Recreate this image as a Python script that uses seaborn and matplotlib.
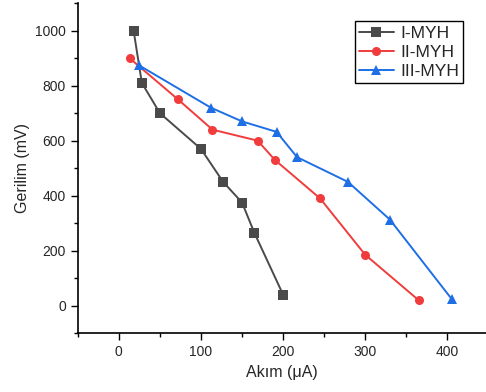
import pandas as pd
import matplotlib
matplotlib.use("Agg")
import matplotlib.pyplot as plt
from matplotlib.ticker import MultipleLocator
import seaborn as sns

# values
akim_1 = [18, 28, 50, 100, 127, 150, 165, 200]
gerilim_1 = [1000, 810, 700, 570, 450, 375, 265, 40]

akim_2 = [13, 72, 114, 169, 190, 245, 300, 365]
gerilim_2 = [900, 750, 640, 600, 530, 390, 185, 20]

akim_3 = [24, 112, 150, 192, 217, 279, 330, 405]
gerilim_3 = [875, 720, 670, 632, 540, 450, 313, 25]

names = ["I-MYH", "II-MYH", "III-MYH"]
colors = ["#4a4a4a", "#f03c3c", "#1e6fe6"]
markers = ["s", "o", "^"]

sns.set_style("ticks")
plt.rcParams["font.family"] = ["Liberation Sans", "DejaVu Sans"]

fig = plt.figure(figsize=(4.86, 3.92), dpi=100)
ax = fig.add_axes([0.16, 0.15, 0.84, 0.842])

series = [(akim_1, gerilim_1), (akim_2, gerilim_2), (akim_3, gerilim_3)]
for (x, y), name, c, m in zip(series, names, colors, markers):
    df = pd.DataFrame({"x": x, "y": y})
    sns.lineplot(data=df, x="x", y="y", sort=False, color=c, marker=m,
                 markersize=6.5, markeredgewidth=0, linewidth=1.4, label=name, ax=ax)

ax.set_xlim(-50, 447)
ax.set_ylim(-100, 1100)
ax.set_xticks([0, 100, 200, 300, 400])
ax.set_yticks([0, 200, 400, 600, 800, 1000])
ax.xaxis.set_minor_locator(MultipleLocator(50))
ax.yaxis.set_minor_locator(MultipleLocator(100))
ax.tick_params(which="major", direction="out", length=5, width=1, labelsize=10, color="black")
ax.tick_params(which="minor", direction="out", length=3, width=1, color="black")
for s in ["left", "bottom"]:
    ax.spines[s].set_linewidth(1.2)
    ax.spines[s].set_color("black")
sns.despine(ax=ax)

ax.set_xlabel("Akım (μA)", fontsize=11.5)
ax.set_ylabel("Gerilim (mV)", fontsize=11.5)

leg = ax.legend(loc="upper right", bbox_to_anchor=(0.944, 0.945), fontsize=12.5,
                frameon=True, fancybox=False, framealpha=1, edgecolor="black",
                handlelength=2.0, borderpad=0.25, labelspacing=0.22, handletextpad=0.35,
                borderaxespad=0)
leg.get_frame().set_linewidth(1.0)

fig.savefig("out.png", dpi=100)
